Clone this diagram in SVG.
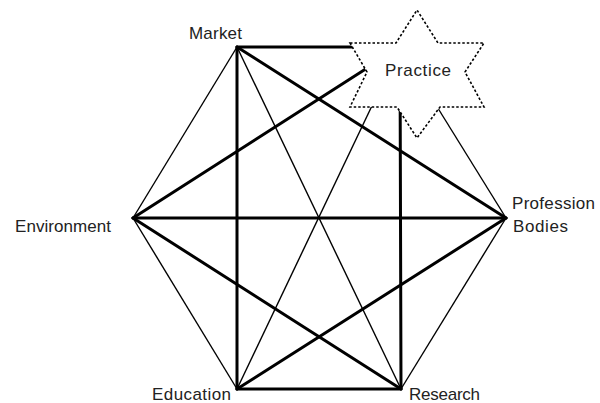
<svg xmlns="http://www.w3.org/2000/svg" width="600" height="403" viewBox="0 0 600 403">
<style>
.thick{stroke:#000;stroke-width:3;fill:none;stroke-linecap:round}
.thin{stroke:#000;stroke-width:1.4;fill:none}
.lbl{font-family:"Liberation Sans",Arial,sans-serif;font-size:17px;fill:#222}
.star{fill:#fff;stroke:#000;stroke-width:1.6;stroke-dasharray:2.5,2}
</style>
<rect width="600" height="403" fill="#fff"/>
<g id="connectors">
<line class="thick" x1="237" y1="47" x2="400" y2="47"/>
<line class="thin" x1="237" y1="47" x2="133" y2="218"/>
<line class="thick" x1="237" y1="47" x2="237" y2="389"/>
<line class="thin" x1="237" y1="47" x2="401" y2="389"/>
<line class="thick" x1="237" y1="47" x2="506" y2="218"/>
<line class="thick" x1="400" y1="47" x2="133" y2="218"/>
<line class="thin" x1="400" y1="47" x2="237" y2="389"/>
<line class="thick" x1="400" y1="47" x2="401" y2="389"/>
<line class="thin" x1="400" y1="47" x2="506" y2="218"/>
<line class="thick" x1="133" y1="218" x2="506" y2="218"/>
<line class="thin" x1="133" y1="218" x2="237" y2="389"/>
<line class="thick" x1="133" y1="218" x2="401" y2="389"/>
<line class="thick" x1="237" y1="389" x2="401" y2="389"/>
<line class="thick" x1="237" y1="389" x2="506" y2="218"/>
<line class="thin" x1="401" y1="389" x2="506" y2="218"/>
</g>
<g id="market"><text class="lbl" x="189" y="39" textLength="53">Market</text></g>
<g id="environment"><text class="lbl" x="15" y="232" textLength="96">Environment</text></g>
<g id="profession"><text class="lbl" x="512" y="209" textLength="83">Profession</text><text class="lbl" x="513" y="232" textLength="55">Bodies</text></g>
<g id="education"><text class="lbl" x="152" y="400" textLength="79">Education</text></g>
<g id="research"><text class="lbl" x="409" y="400" textLength="71">Research</text></g>
<g id="practice">
<polygon class="star" points="350,43 396,43 417,10 438,43 484,43 465,72 484,107 440,107 417,138 397,107 350,107 367,72"/>
<text class="lbl" x="385" y="76" textLength="66">Practice</text>
</g>
</svg>
